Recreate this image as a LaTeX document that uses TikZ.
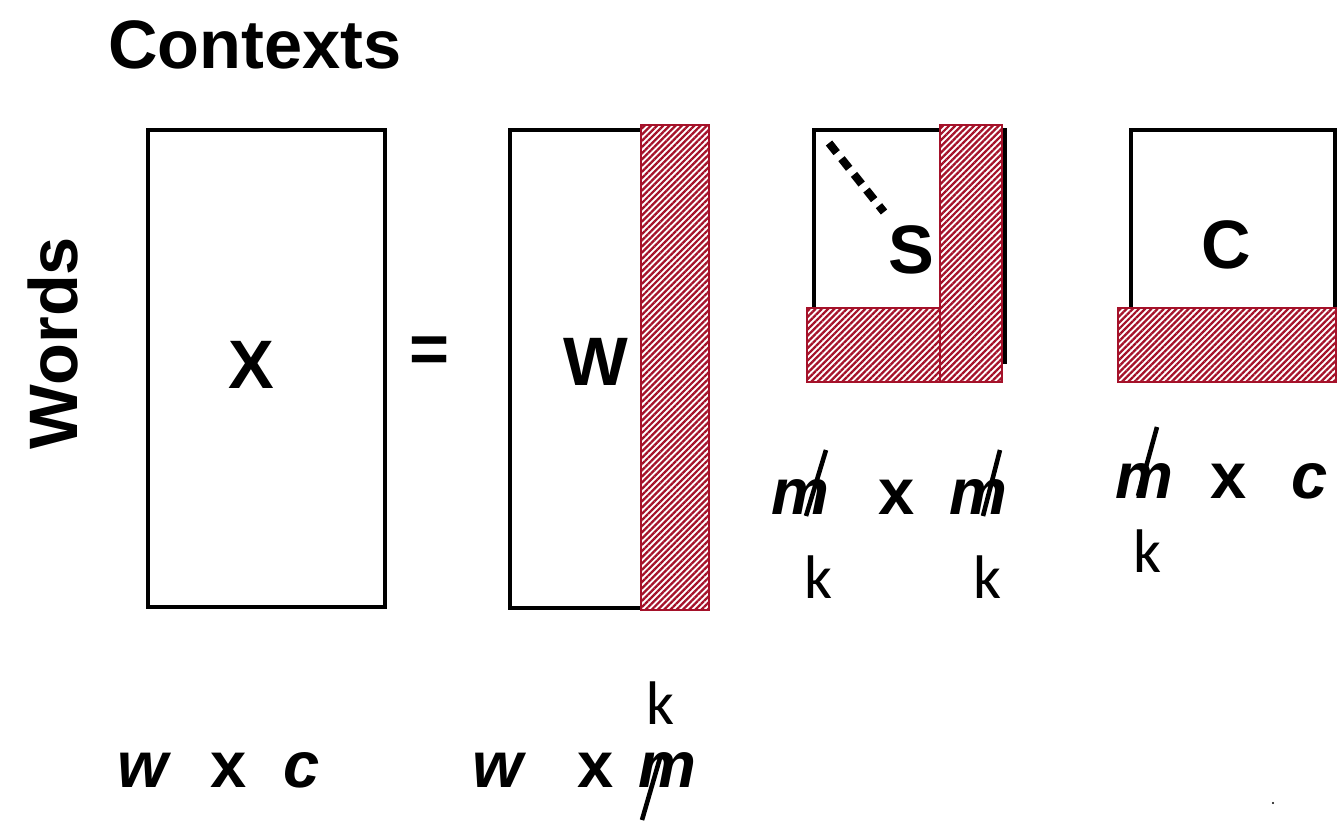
\documentclass[tikz,border=0pt]{standalone}
\usepackage{fontspec}
\setmainfont{Liberation Sans}
\newfontfamily\kfont{Carlito}
\usetikzlibrary{patterns.meta}
\definecolor{hatchred}{RGB}{165,18,42}
\begin{document}
\begin{tikzpicture}[x=0.01cm,y=-0.01cm,
  mat/.style={draw=black,line width=1.4pt},
  hatch/.style={draw=hatchred,line width=0.8pt,preaction={fill=white},pattern={Lines[angle=45,distance=1.25pt,line width=0.65pt]},pattern color=hatchred},
  big/.style={font=\bfseries\fontsize{19.5}{24}\selectfont,inner sep=0pt},
  dimlbl/.style={font=\bfseries\itshape\fontsize{18.5}{22}\selectfont,inner sep=0pt},
  timeslbl/.style={font=\bfseries\fontsize{18.5}{22}\selectfont,inner sep=0pt},
  kl/.style={font=\kfont\fontsize{17.5}{20}\selectfont,inner sep=0pt},
  slash/.style={line width=1.3pt}]
\useasboundingbox (0,0) rectangle (1344,820);
% titles
\node[big] (ctx) at (255,45) {Contexts};
\node[big,rotate=90] (words) at (53,343) {Words};
% X matrix
\draw[mat] (148,130) rectangle (385,607);
\node[big] (X) at (251,365) {X};
\node[big] (eq) at (430,355) {=};
% W matrix
\draw[mat] (510,130) rectangle (705,608);
\draw[hatch] (641,125) rectangle (709,610);
\node[big] (W) at (596,362) {W};
% S matrix
\draw[mat] (814,130) rectangle (1005,362);
\coordinate (d1) at (829,143);
\coordinate (d2) at (884,212);
\draw[line width=2.3pt,dash pattern=on 3.5pt off 2.2pt] (d1) -- (d2);
\node[big] (S) at (911,250) {S};
\draw[hatch] (807,308) rectangle (940,382);
\draw[hatch] (940,125) rectangle (1002,382);
% C matrix
\draw[mat] (1131,130) rectangle (1335,375);
\draw[hatch] (1118,308) rectangle (1336,382);
\node[big] (C) at (1226,245) {C};
% S dims
\node[dimlbl] (sm1) at (800,497) {m};
\node[timeslbl] (sx) at (897,497) {x};
\node[dimlbl] (sm2) at (978,497) {m};
\coordinate (sa1) at (826,450); \coordinate (sb1) at (806,516);
\coordinate (sa2) at (1000,450); \coordinate (sb2) at (983,516);
\draw[slash] (sa1) -- (sb1);
\draw[slash] (sa2) -- (sb2);
\node[kl] (k1) at (818,577) {k};
\node[kl] (k2) at (987,577) {k};
% C dims
\node[dimlbl] (cm) at (1144,481) {m};
\node[timeslbl] (cx) at (1229,481) {x};
\node[dimlbl] (cc) at (1310,481) {c};
\coordinate (ca) at (1157,427); \coordinate (cb) at (1138,496);
\draw[slash] (ca) -- (cb);
\node[kl] (k3) at (1147,551) {k};
% X dims
\node[dimlbl] (xw) at (143,770) {w};
\node[timeslbl] (xx) at (229,770) {x};
\node[dimlbl] (xc) at (302,770) {c};
% W dims
\node[dimlbl] (ww) at (498,770) {w};
\node[timeslbl] (wx) at (596,770) {x};
\node[dimlbl] (wm) at (667,770) {m};
\coordinate (wa) at (660,758); \coordinate (wb) at (642,820);
\draw[slash] (wa) -- (wb);
\node[kl] (k4) at (660,703) {k};
% speck
\fill (1273,803) circle (1.2);
\end{tikzpicture}
\end{document}
